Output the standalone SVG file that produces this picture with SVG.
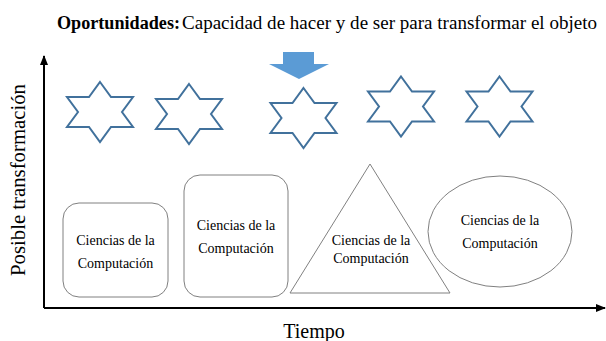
<svg xmlns="http://www.w3.org/2000/svg" width="606" height="341" viewBox="0 0 606 341">
<defs>
<style>
.t{font-family:"Liberation Serif","DejaVu Serif",serif;fill:#000}
.star{fill:#fff;stroke:#41719c;stroke-width:2;stroke-linejoin:miter}
.shape{fill:#fff;stroke:#808080;stroke-width:1}
.lbl{font-family:"Liberation Serif",serif;font-size:14px;text-anchor:middle;fill:#000}
.ax{stroke:#000;stroke-width:2;fill:none}
</style>
<path id="hex" d="M0,-30 L11,-15 L33,-15 L22,0 L33,15 L11,15 L0,30 L-11,15 L-33,15 L-22,0 L-33,-15 L-11,-15 Z"/>
<marker id="ah" viewBox="0 0 10 10" refX="9" refY="5" markerWidth="5" markerHeight="5" orient="auto-start-reverse" markerUnits="strokeWidth">
<path d="M0,1 L10,5 L0,9 Z" fill="#000"/>
</marker>
</defs>
<rect width="606" height="341" fill="#fff"/>
<g id="title">
<text class="t" x="57" y="29" font-size="18" font-weight="bold" textLength="123" lengthAdjust="spacingAndGlyphs">Oportunidades:</text>
<text class="t" x="182" y="29" font-size="18" textLength="415" lengthAdjust="spacingAndGlyphs">Capacidad de hacer y de ser para transformar el objeto</text>
</g>
<g id="connectors">
<line class="ax" x1="44" y1="308" x2="44" y2="56" marker-end="url(#ah)"/>
<line class="ax" x1="44" y1="308" x2="605" y2="308" marker-end="url(#ah)"/>
</g>
<g id="yLabel">
<text class="t" font-size="20" text-anchor="middle" transform="translate(25,180) rotate(-90)" textLength="192" lengthAdjust="spacingAndGlyphs">Posible transformación</text>
</g>
<g id="xLabel">
<text class="t" x="314" y="338" font-size="20" text-anchor="middle">Tiempo</text>
</g>
<g id="star1"><use href="#hex" class="star" transform="translate(100,112)"/></g>
<g id="star2"><use href="#hex" class="star" transform="translate(189,114)"/></g>
<g id="star3"><use href="#hex" class="star" transform="translate(303.5,118)"/></g>
<g id="star4"><use href="#hex" class="star" transform="translate(401,106.5)"/></g>
<g id="star5"><use href="#hex" class="star" transform="translate(499.5,106.5)"/></g>
<g id="arrow">
<path d="M283,52 L314,52 L314,64 L329,64 L299,79 L269,64 L283,64 Z" fill="#5b9bd5"/>
</g>
<g id="box1">
<rect class="shape" x="63" y="203" width="105" height="94" rx="16"/>
<text class="lbl" x="115.5" y="245">Ciencias de la</text>
<text class="lbl" x="115.5" y="268">Computación</text>
</g>
<g id="box2">
<rect class="shape" x="184" y="175" width="104" height="122" rx="16"/>
<text class="lbl" x="236" y="230">Ciencias de la</text>
<text class="lbl" x="236" y="253">Computación</text>
</g>
<g id="triangle">
<path class="shape" d="M370,164 L450,293 L290,293 Z"/>
<text class="lbl" x="371" y="245" font-size="11">Ciencias de la</text>
<text class="lbl" x="371" y="263" font-size="11">Computación</text>
</g>
<g id="ellipse">
<ellipse class="shape" cx="500" cy="231.5" rx="72" ry="55.5"/>
<text class="lbl" x="500" y="225">Ciencias de la</text>
<text class="lbl" x="500" y="248">Computación</text>
</g>
</svg>
